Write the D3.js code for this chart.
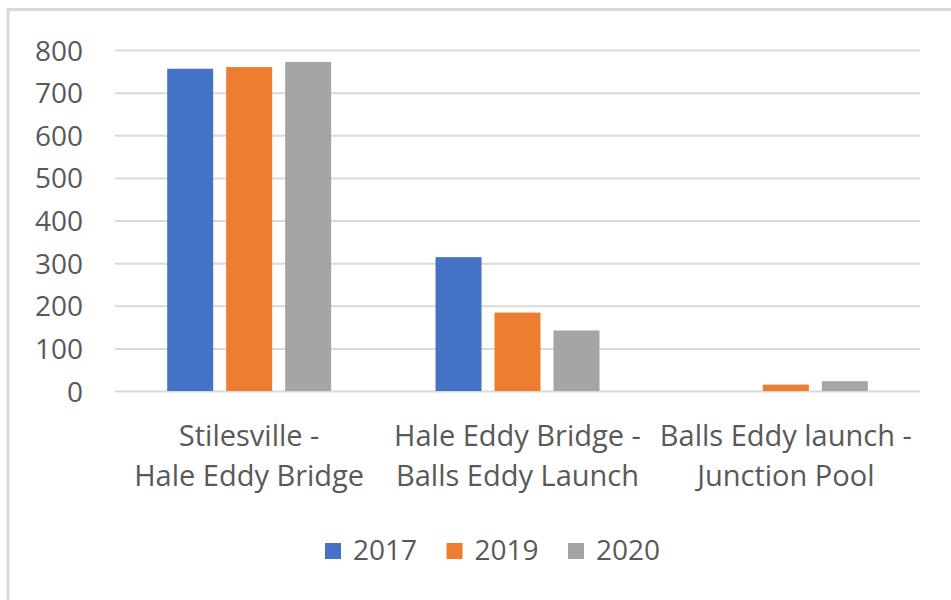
<!DOCTYPE html>
<html>
<head>
<meta charset="utf-8">
<script src="https://cdn.jsdelivr.net/npm/d3@7"></script>
<style>
  html, body { margin: 0; padding: 0; background: #fff; }
  svg { display: block; }
  text { font-family: "Open Sans", sans-serif; fill: #595959; }
</style>
</head>
<body>
<svg id="chart" width="951" height="600"></svg>
<script>
const categories = ["Stilesville -\nHale Eddy Bridge", "Hale Eddy Bridge -\nBalls Eddy Launch", "Balls Eddy launch -\nJunction Pool"];
const seriesNames = ["2017", "2019", "2020"];
const values2017 = [756, 314, 0];
const values2019 = [760, 184, 15];
const values2020 = [772, 142, 23];
const yTicks = [0, 100, 200, 300, 400, 500, 600, 700, 800];
const colors = ["#4472C4", "#ED7D31", "#A5A5A5"];

const seriesValues = [values2017, values2019, values2020];
const rows = categories.map((c, i) => ({
  category: c,
  values: seriesNames.map((s, j) => ({ series: s, value: seriesValues[j][i], color: colors[j] }))
}));

const svg = d3.select("#chart");
const W = 951, H = 600;
const plot = { left: 115, right: 920, top: 50, bottom: 391 };

// outer frame (left and top edges visible)
svg.append("line").attr("x1", 8).attr("x2", 8).attr("y1", 8).attr("y2", H)
  .attr("stroke", "#d9d9d9").attr("stroke-width", 3);
svg.append("line").attr("x1", 8).attr("x2", W).attr("y1", 9.5).attr("y2", 9.5)
  .attr("stroke", "#d9d9d9").attr("stroke-width", 3);

const x = d3.scaleBand().domain(categories).range([plot.left, plot.right])
  .paddingInner(0.389).paddingOuter(0.1945);
const xs = d3.scaleBand().domain(seriesNames).range([0, x.bandwidth()])
  .paddingInner(0.22).paddingOuter(0);
const y = d3.scaleLinear().domain([0, 800]).range([plot.bottom, plot.top]);

// y axis with gridlines
const yAxis = d3.axisLeft(y).tickValues(yTicks).tickSize(-(plot.right - plot.left)).tickPadding(32);
const gy = svg.append("g").attr("transform", `translate(${plot.left},0)`).call(yAxis);
gy.select(".domain").remove();
gy.selectAll(".tick line").attr("stroke", "#d9d9d9").attr("stroke-width", 2);
gy.selectAll(".tick text").style("font-family", '"Open Sans", sans-serif')
  .style("font-size", "28px").attr("fill", "#595959").attr("dy", "0.36em");

// bars
const groups = svg.append("g").selectAll("g").data(rows).join("g")
  .attr("transform", d => `translate(${x(d.category)},0)`);
groups.selectAll("rect").data(d => d.values).join("rect")
  .attr("x", d => xs(d.series))
  .attr("width", xs.bandwidth())
  .attr("y", d => y(d.value))
  .attr("height", d => y(0) - y(d.value))
  .attr("fill", d => d.color);

// category labels
const cl = svg.append("g").selectAll("text").data(categories).join("text")
  .attr("text-anchor", "middle")
  .style("font-size", "29px");
cl.selectAll("tspan").data(d => d.split("\n").map(t => ({ t, c: d }))).join("tspan")
  .attr("x", d => x(d.c) + x.bandwidth() / 2)
  .attr("y", (d, i) => 446 + i * 40)
  .text(d => d.t);

// legend
const legend = svg.append("g").attr("transform", "translate(325,543)");
const li = legend.selectAll("g").data(seriesNames).join("g")
  .attr("transform", (d, i) => `translate(${i * 121.5},0)`);
li.append("rect").attr("width", 16).attr("height", 16).attr("fill", (d, i) => colors[i]);
li.append("text").attr("x", 28).attr("y", 17).style("font-size", "28px").text(d => d);
</script>
</body>
</html>
